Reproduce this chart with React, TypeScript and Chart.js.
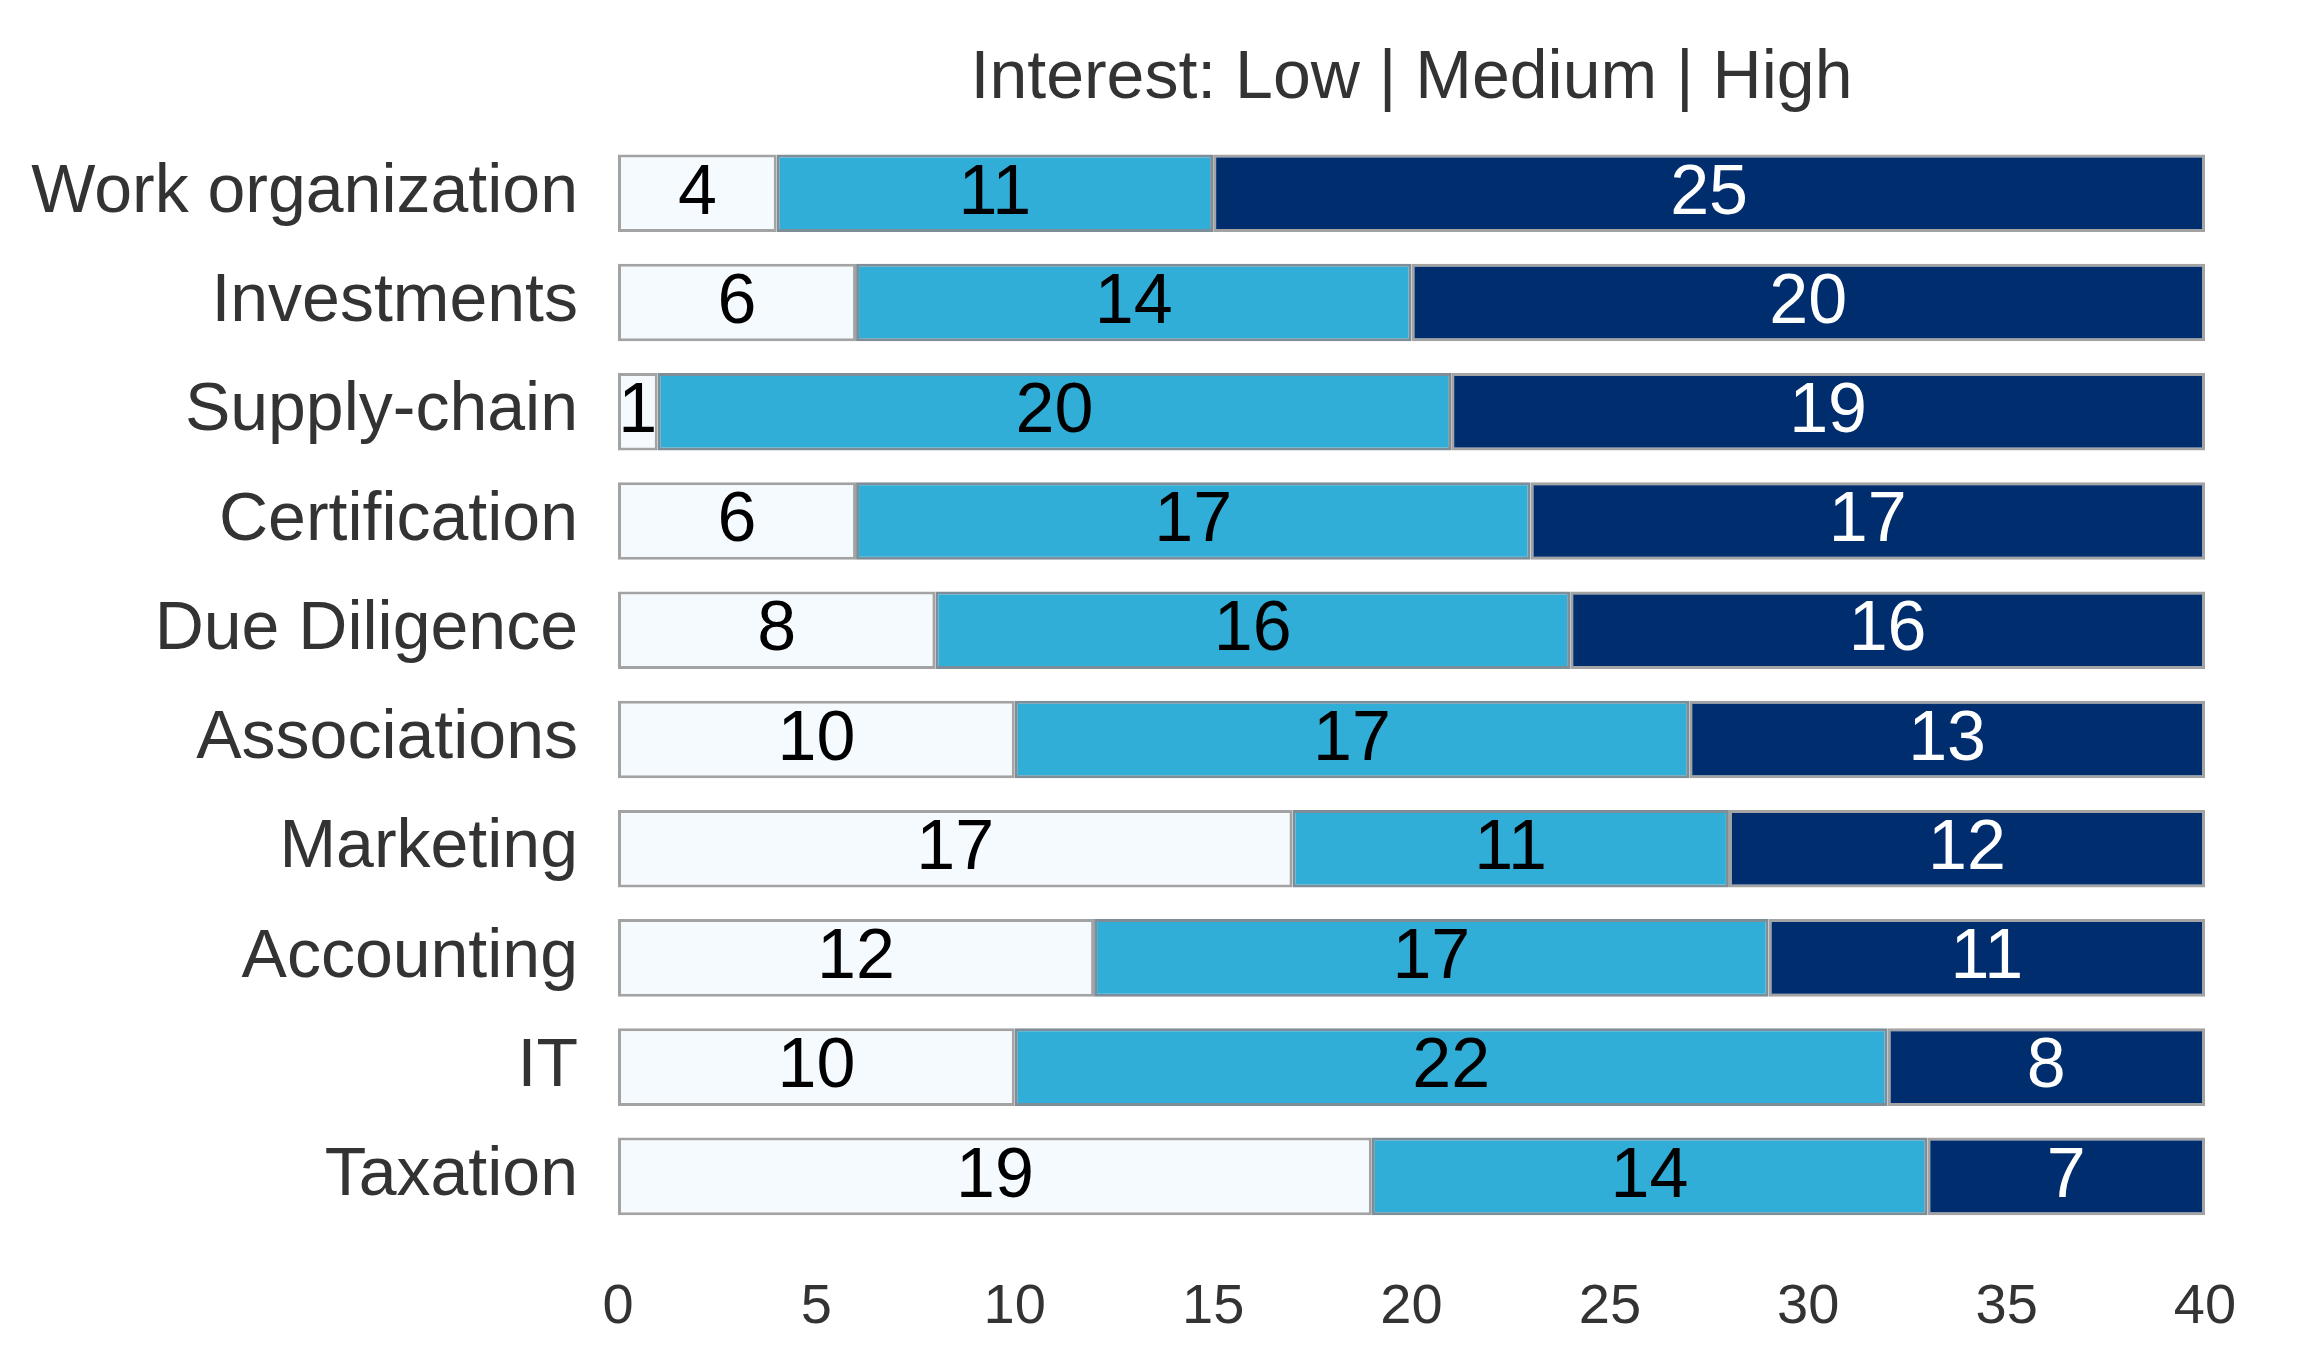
import React, { useEffect, useRef } from "react";
import { Chart, registerables } from "chart.js";

Chart.register(...registerables);

const categories = [
  "Work organization",
  "Investments",
  "Supply-chain",
  "Certification",
  "Due Diligence",
  "Associations",
  "Marketing",
  "Accounting",
  "IT",
  "Taxation",
];
const lowValues = [4, 6, 1, 6, 8, 10, 17, 12, 10, 19];
const mediumValues = [11, 14, 20, 17, 16, 17, 11, 17, 22, 14];
const highValues = [25, 20, 19, 17, 16, 13, 12, 11, 8, 7];
const titleText = "Interest: Low | Medium | High";

const FONT = "'Liberation Sans', Arial, Helvetica, sans-serif";

const segmentLabels = {
  id: "segmentLabels",
  afterDatasetsDraw(chart: any) {
    const ctx = chart.ctx;
    ctx.save();
    ctx.font = `70px ${FONT}`;
    ctx.textAlign = "center";
    ctx.textBaseline = "middle";
    chart.data.datasets.forEach((ds: any, di: number) => {
      const meta = chart.getDatasetMeta(di);
      ctx.fillStyle = di === 2 ? "#ffffff" : "#000000";
      meta.data.forEach((el: any, i: number) => {
        const v = ds.data[i];
        if (!v) return;
        const p = el.getProps(["x", "y", "base"], true);
        const cx = (p.x + p.base) / 2;
        ctx.fillText(String(v), cx, p.y + 1);
      });
    });
    ctx.restore();
  },
};

export default function App() {
  const ref = useRef<HTMLCanvasElement | null>(null);

  useEffect(() => {
    if (!ref.current) return;
    const border = "rgba(0,0,0,0.36)";
    const chart = new Chart(ref.current, {
      type: "bar",
      data: {
        labels: categories,
        datasets: [
          {
            label: "Low",
            data: lowValues,
            backgroundColor: "#f5faff",
            borderColor: border,
            borderWidth: 3,
            borderSkipped: false,
            barPercentage: 0.71,
            categoryPercentage: 1,
          },
          {
            label: "Medium",
            data: mediumValues,
            backgroundColor: "#31aed8",
            borderColor: "rgba(20,50,70,0.55)",
            borderWidth: 3,
            borderSkipped: false,
            barPercentage: 0.71,
            categoryPercentage: 1,
          },
          {
            label: "High",
            data: highValues,
            backgroundColor: "#002d6e",
            borderColor: border,
            borderWidth: 3,
            borderSkipped: false,
            barPercentage: 0.71,
            categoryPercentage: 1,
          },
        ],
      },
      options: {
        indexAxis: "y",
        animation: false,
        responsive: true,
        maintainAspectRatio: false,
        devicePixelRatio: 1,
        layout: { padding: { left: 0, right: 108, top: 0, bottom: 0 } },
        plugins: {
          legend: { display: false },
          tooltip: { enabled: false },
          title: {
            display: true,
            text: titleText,
            fullSize: false,
            color: "#333333",
            font: { family: FONT, size: 68, weight: "normal" },
            padding: { top: 38, bottom: 19 },
          },
        },
        scales: {
          x: {
            stacked: true,
            min: 0,
            max: 40,
            grid: { display: false, drawTicks: false },
            border: { display: false },
            ticks: {
              stepSize: 5,
              color: "#333333",
              font: { family: FONT, size: 56 },
              padding: 43,
              maxRotation: 0,
            },
            afterFit(scale: any) {
              scale.height = 127;
            },
          },
          y: {
            stacked: true,
            grid: { display: false, drawTicks: false },
            border: { display: false },
            ticks: {
              color: "#333333",
              font: { family: FONT, size: 68 },
              padding: 40,
            },
            afterFit(scale: any) {
              scale.width = 618;
            },
          },
        },
      },
      plugins: [segmentLabels],
    });
    return () => chart.destroy();
  }, []);

  return (
    <div
      style={{
        position: "fixed",
        left: 0,
        top: 0,
        width: "2313px",
        height: "1358px",
        background: "#ffffff",
      }}
    >
      <canvas ref={ref} />
    </div>
  );
}
